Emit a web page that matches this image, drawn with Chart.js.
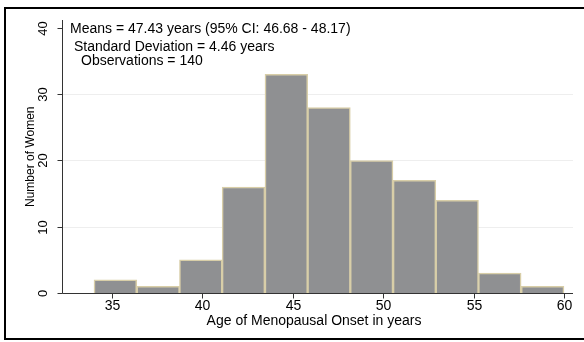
<!DOCTYPE html>
<html>
<head>
<meta charset="utf-8">
<script src="https://cdn.jsdelivr.net/npm/chart.js@4/dist/chart.umd.min.js"></script>
<style>
  html, body { margin: 0; padding: 0; background: #ffffff; }
  #wrap { position: relative; width: 584px; height: 342px; }
</style>
</head>
<body>
<div id="wrap"><canvas id="chart" width="584" height="342"></canvas></div>
<script>
// Histogram of age at menopausal onset (11 bins)
const binMidpoints = [35.18, 37.55, 39.91, 42.27, 44.64, 47.00, 49.36, 51.73, 54.09, 56.45, 58.82];
const womenCounts  = [2, 1, 5, 16, 33, 28, 20, 17, 14, 3, 1];
const xTickValues  = [35, 40, 45, 50, 55, 60];
const yTickValues  = [0, 10, 20, 30, 40];
const gridValues   = [10, 20, 30];
const summaryLines = [
  'Means = 47.43 years (95% CI: 46.68 - 48.17)',
  'Standard Deviation = 4.46 years',
  'Observations = 140'
];
const xTitle = 'Age of Menopausal Onset in years';
const yTitle = 'Number of Women';

const FONT = '"Liberation Sans", Arial, sans-serif';

const frameAndAxes = {
  id: 'frameAndAxes',
  beforeDatasetsDraw(chart) {
    const { ctx, chartArea, scales: { y } } = chart;
    ctx.save();
    ctx.strokeStyle = '#eeeeee';
    ctx.lineWidth = 1;
    gridValues.forEach(v => {
      const py = Math.round(y.getPixelForValue(v)) + 0.5;
      ctx.beginPath();
      ctx.moveTo(chartArea.left, py);
      ctx.lineTo(chartArea.right, py);
      ctx.stroke();
    });
    ctx.restore();
  },
  afterDraw(chart) {
    const { ctx, chartArea, scales: { x, y } } = chart;
    ctx.save();
    // outer frame (open on the right)
    ctx.strokeStyle = '#000000';
    ctx.lineWidth = 2;
    ctx.beginPath();
    ctx.moveTo(590, 8);
    ctx.lineTo(5, 8);
    ctx.lineTo(5, 339);
    ctx.lineTo(590, 339);
    ctx.stroke();

    // axis lines
    ctx.strokeStyle = '#333333';
    ctx.lineWidth = 1;
    const axX = Math.round(chartArea.left) + 0.5;
    const axY = Math.round(y.getPixelForValue(0)) + 0.5;
    ctx.beginPath();
    ctx.moveTo(axX, chartArea.top);
    ctx.lineTo(axX, axY);
    ctx.lineTo(chartArea.right, axY);
    ctx.stroke();

    // y ticks and rotated labels
    ctx.fillStyle = '#000000';
    ctx.font = '13px ' + FONT;
    ctx.textAlign = 'center';
    ctx.textBaseline = 'middle';
    yTickValues.forEach(v => {
      const py = Math.round(y.getPixelForValue(v)) + 0.5;
      ctx.beginPath();
      ctx.moveTo(axX - 5, py);
      ctx.lineTo(axX, py);
      ctx.stroke();
      ctx.save();
      ctx.translate(axX - 19, py);
      ctx.rotate(-Math.PI / 2);
      ctx.fillText(String(v), 0, 0);
      ctx.restore();
    });

    // x ticks and labels
    ctx.font = '14px ' + FONT;
    xTickValues.forEach(v => {
      const px = Math.round(x.getPixelForValue(v)) + 0.5;
      ctx.beginPath();
      ctx.moveTo(px, axY);
      ctx.lineTo(px, axY + 5);
      ctx.stroke();
      ctx.fillText(String(v), px, 306);
    });

    // axis titles
    ctx.font = '14px ' + FONT;
    ctx.fillText(xTitle, 314, 321);
    ctx.save();
    ctx.translate(31, (chartArea.top + axY) / 2);
    ctx.rotate(-Math.PI / 2);
    ctx.font = '12px ' + FONT;
    ctx.fillText(yTitle, 0, 0);
    ctx.restore();

    // summary statistics
    ctx.textAlign = 'left';
    ctx.font = '14px ' + FONT;
    ctx.fillText(summaryLines[0], 70, 29);
    ctx.fillText(summaryLines[1], 74, 47);
    ctx.fillText(summaryLines[2], 81, 61);
    ctx.restore();
  }
};

new Chart(document.getElementById('chart'), {
  type: 'bar',
  data: {
    datasets: [{
      data: binMidpoints.map((m, i) => ({ x: m, y: womenCounts[i] })),
      backgroundColor: '#8f9092',
      borderColor: '#d8cea8',
      borderWidth: 1.5,
      barPercentage: 1,
      categoryPercentage: 1,
      grouped: false
    }]
  },
  options: {
    responsive: false,
    animation: false,
    events: [],
    layout: { padding: { left: 62, right: 11, top: 20, bottom: 49 } },
    plugins: { legend: { display: false }, tooltip: { enabled: false } },
    scales: {
      x: { type: 'linear', display: false, offset: false, min: 32.23, max: 60.5 },
      y: { type: 'linear', display: false, min: 0, max: 41.2 }
    }
  },
  plugins: [frameAndAxes]
});
</script>
</body>
</html>
